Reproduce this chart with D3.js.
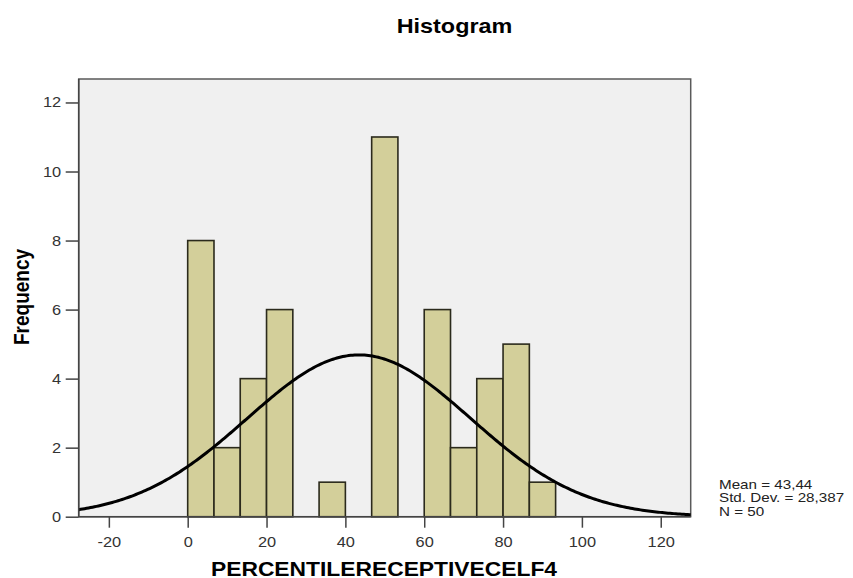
<!DOCTYPE html>
<html>
<head>
<meta charset="utf-8">
<script src="https://cdn.jsdelivr.net/npm/d3@7"></script>
<style>
  body { margin: 0; background: #fff; }
  text { font-family: "Liberation Sans", Arial, sans-serif; }
</style>
</head>
<body>
<div id="chart"></div>
<script>
// histogram bins (lower / upper edges) and counts
var binLower = [0, 6.67, 13.33, 20, 26.67, 33.33, 40, 46.67, 53.33, 60, 66.67, 73.33, 80, 86.67];
var binUpper = [6.67, 13.33, 20, 26.67, 33.33, 40, 46.67, 53.33, 60, 66.67, 73.33, 80, 86.67, 93.33];
var counts = [8, 2, 4, 6, 0, 1, 0, 11, 0, 6, 2, 4, 5, 1];

var xTicks = [-20, 0, 20, 40, 60, 80, 100, 120];
var yTicks = [0, 2, 4, 6, 8, 10, 12];

var mean = 43.44, sd = 28.387, n = 50;
var statLines = ["Mean = 43,44", "Std. Dev. = 28,387", "N = 50"];

var W = 853, H = 578;
var pLeft = 78.7, pRight = 690.7, pTop = 79, pBottom = 516.7;
var sx = 1.17; // the picture is a bit wider than tall

var svg = d3.select("#chart").append("svg")
  .attr("width", W).attr("height", H);

var x = d3.scaleLinear().domain([-27.65, 127.6]).range([pLeft, pRight]);
var y = d3.scaleLinear().domain([0, 12.68]).range([pBottom, pTop]);

// plot background
svg.append("rect")
  .attr("x", pLeft).attr("y", pTop)
  .attr("width", pRight - pLeft).attr("height", pBottom - pTop)
  .style("fill", "#f0f0f0")
  .style("stroke", "#5a5a5a")
  .style("stroke-width", "1.5px");

var bins = counts.map(function(c, i) { return { lo: binLower[i], hi: binUpper[i], c: c }; })
  .filter(function(d) { return d.c > 0; });

svg.append("g").selectAll("rect")
  .data(bins)
  .enter()
  .append("rect")
  .attr("x", function(d) { return x(d.lo); })
  .attr("y", function(d) { return y(d.c); })
  .attr("width", function(d) { return x(d.hi) - x(d.lo); })
  .attr("height", function(d) { return y(0) - y(d.c); })
  .style("fill", "#d3cf9a")
  .style("stroke", "#2b2a1c")
  .style("stroke-width", "1.6px");

// normal curve
var bw = binUpper[0] - binLower[0];
var curve = d3.range(-27.65, 127.6, 0.5).concat([127.6]).map(function(v) {
  var z = (v - mean) / sd;
  return [v, n * bw / (sd * Math.sqrt(2 * Math.PI)) * Math.exp(-0.5 * z * z)];
});
svg.append("path")
  .datum(curve)
  .attr("d", d3.line().x(function(d) { return x(d[0]); }).y(function(d) { return y(d[1]); }))
  .style("fill", "none")
  .style("stroke", "#000")
  .style("stroke-width", "3px");

// axes
var fmt = function(d) { return String(d); };
var xAxis = svg.append("g")
  .attr("transform", "translate(0," + pBottom + ")")
  .call(d3.axisBottom(x).tickValues(xTicks).tickFormat(fmt).tickSize(11).tickPadding(9));
var yAxis = svg.append("g")
  .attr("transform", "translate(" + pLeft + ",0)")
  .call(d3.axisLeft(y).tickValues(yTicks).tickFormat(fmt).tickSize(13).tickPadding(4));

[xAxis, yAxis].forEach(function(a) {
  a.select(".domain").remove();
  a.selectAll("line").style("stroke", "#444").style("stroke-width", "1.5px");
  a.selectAll("text").style("font-size", "14px").style("fill", "#333")
    .style("font-family", "'Liberation Sans', Arial, sans-serif");
});
xAxis.selectAll("text").attr("transform", "scale(" + sx + ",1)");
yAxis.selectAll("text").attr("x", 0).attr("transform", "translate(-17.5,0) scale(" + sx + ",1)");

// axis lines
svg.append("line").attr("x1", pLeft).attr("x2", pRight).attr("y1", pBottom).attr("y2", pBottom)
  .style("stroke", "#444").style("stroke-width", "1.5px");
svg.append("line").attr("x1", pLeft).attr("x2", pLeft).attr("y1", pTop).attr("y2", pBottom)
  .style("stroke", "#444").style("stroke-width", "1.5px");

// titles
svg.append("text")
  .attr("transform", "translate(454.5,32.7) scale(" + sx + ",1)")
  .style("text-anchor", "middle").style("font-size", "20px").style("font-weight", "bold")
  .text("Histogram");

svg.append("text")
  .attr("transform", "translate(384,575.5) scale(" + sx + ",1)")
  .style("text-anchor", "middle").style("font-size", "19.5px").style("font-weight", "bold")
  .text("PERCENTILERECEPTIVECELF4");

svg.append("text")
  .attr("transform", "translate(29,297) rotate(-90) scale(1," + sx + ")")
  .style("text-anchor", "middle").style("font-size", "19px").style("font-weight", "bold")
  .text("Frequency");

svg.append("g").selectAll("text")
  .data(statLines)
  .enter()
  .append("text")
  .attr("transform", function(d, i) { return "translate(719," + (488.5 + i * 13.8) + ") scale(" + sx + ",1)"; })
  .style("font-size", "13px").style("fill", "#222")
  .text(function(d) { return d; });
</script>
</body>
</html>
